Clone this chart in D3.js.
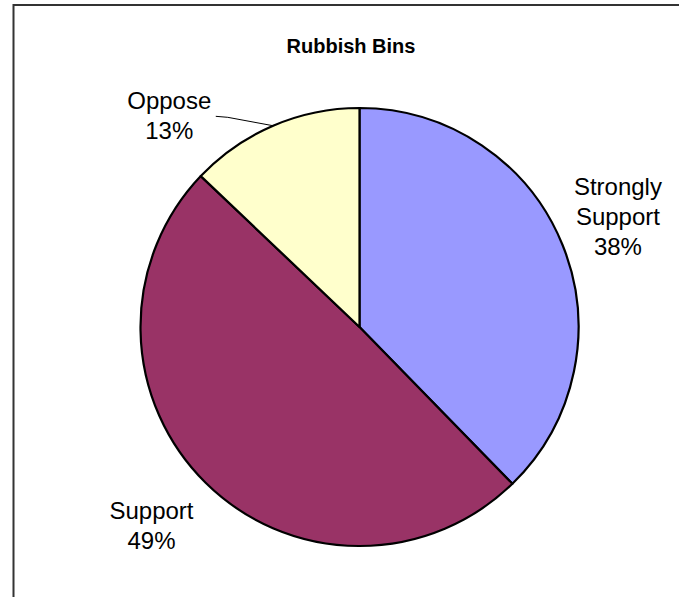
<!DOCTYPE html>
<html>
<head>
<meta charset="utf-8">
<script src="https://cdn.jsdelivr.net/npm/d3@7"></script>
<style>
  html, body { margin: 0; padding: 0; background: #fff; }
  svg { display: block; font-family: Arial, "Liberation Sans", sans-serif; }
</style>
</head>
<body>
<svg id="chart" width="679" height="597"></svg>
<script>
// ---- data ----
const title = "Rubbish Bins";
const categories = ["Strongly Support", "Support", "Oppose"];
const labelLines = [["Strongly", "Support"], ["Support"], ["Oppose"]];
const values = [37.7, 49.4, 12.9];
const percentLabels = ["38%", "49%", "13%"];
const colors = ["#9999ff", "#993366", "#ffffcc"];

// ---- layout ----
const W = 679, H = 597;
const cx = 359.5, cy = 327, R = 219;
const svg = d3.select("#chart");

// outer border (extends beyond the visible area on right/bottom)
svg.append("rect")
  .attr("x", 13.5).attr("y", 5)
  .attr("width", 700).attr("height", 640)
  .attr("fill", "#fff").attr("stroke", "#333").attr("stroke-width", 2);

svg.append("text")
  .attr("x", 351).attr("y", 53)
  .attr("text-anchor", "middle")
  .attr("font-size", 20).attr("font-weight", "bold")
  .attr("fill", "#000")
  .text(title);

const data = categories.map((c, i) => ({ name: c, value: values[i], lines: labelLines[i], pct: percentLabels[i], color: colors[i] }));

const pie = d3.pie().sort(null).value(d => d.value);
const arcs = pie(data);
const arc = d3.arc().innerRadius(0).outerRadius(R);

const g = svg.append("g").attr("transform", `translate(${cx},${cy})`);
g.selectAll("path.slice").data(arcs).enter().append("path")
  .attr("class", "slice")
  .attr("d", arc)
  .attr("fill", d => d.data.color)
  .attr("stroke", "#000")
  .attr("stroke-width", 2.2)
  .attr("stroke-linejoin", "round");

// label placement: polar position (angle offset in degrees, radius, vertical nudge)
const labelPlace = [
  { dAng: 0, r: 279, dy: -5.5 },
  { dAng: 1.2, r: 290, dy: -3 },
  { dAng: -19.2, r: 282, dy: -3 }
];
const fs = 24, lh = 30;

arcs.forEach((a, i) => {
  const mid = (a.startAngle + a.endAngle) / 2;
  const p = labelPlace[i];
  const ang = mid + p.dAng * Math.PI / 180;
  const lx = Math.sin(ang) * p.r;
  const ly = -Math.cos(ang) * p.r;
  const lines = a.data.lines.concat([a.data.pct]);
  const t = g.append("text")
    .attr("text-anchor", "middle")
    .attr("font-size", fs)
    .attr("fill", "#000");
  const startY = ly + p.dy - (lines.length - 1) * lh / 2 + fs * 0.35;
  lines.forEach((ln, k) => {
    t.append("tspan").attr("x", lx).attr("y", startY + k * lh).text(ln);
  });

  if (Math.abs(p.dAng) > 5) {
    // leader line from label to slice edge
    const ex = Math.sin(mid) * R, ey = -Math.cos(mid) * R;
    const sx = lx + 46.5, sy = ly - 2.5;
    g.append("polyline")
      .attr("points", [[sx, sy], [sx + 12, sy + 1], [ex, ey]].map(q => q.join(",")).join(" "))
      .attr("fill", "none").attr("stroke", "#000").attr("stroke-width", 1);
  }
});
</script>
</body>
</html>
